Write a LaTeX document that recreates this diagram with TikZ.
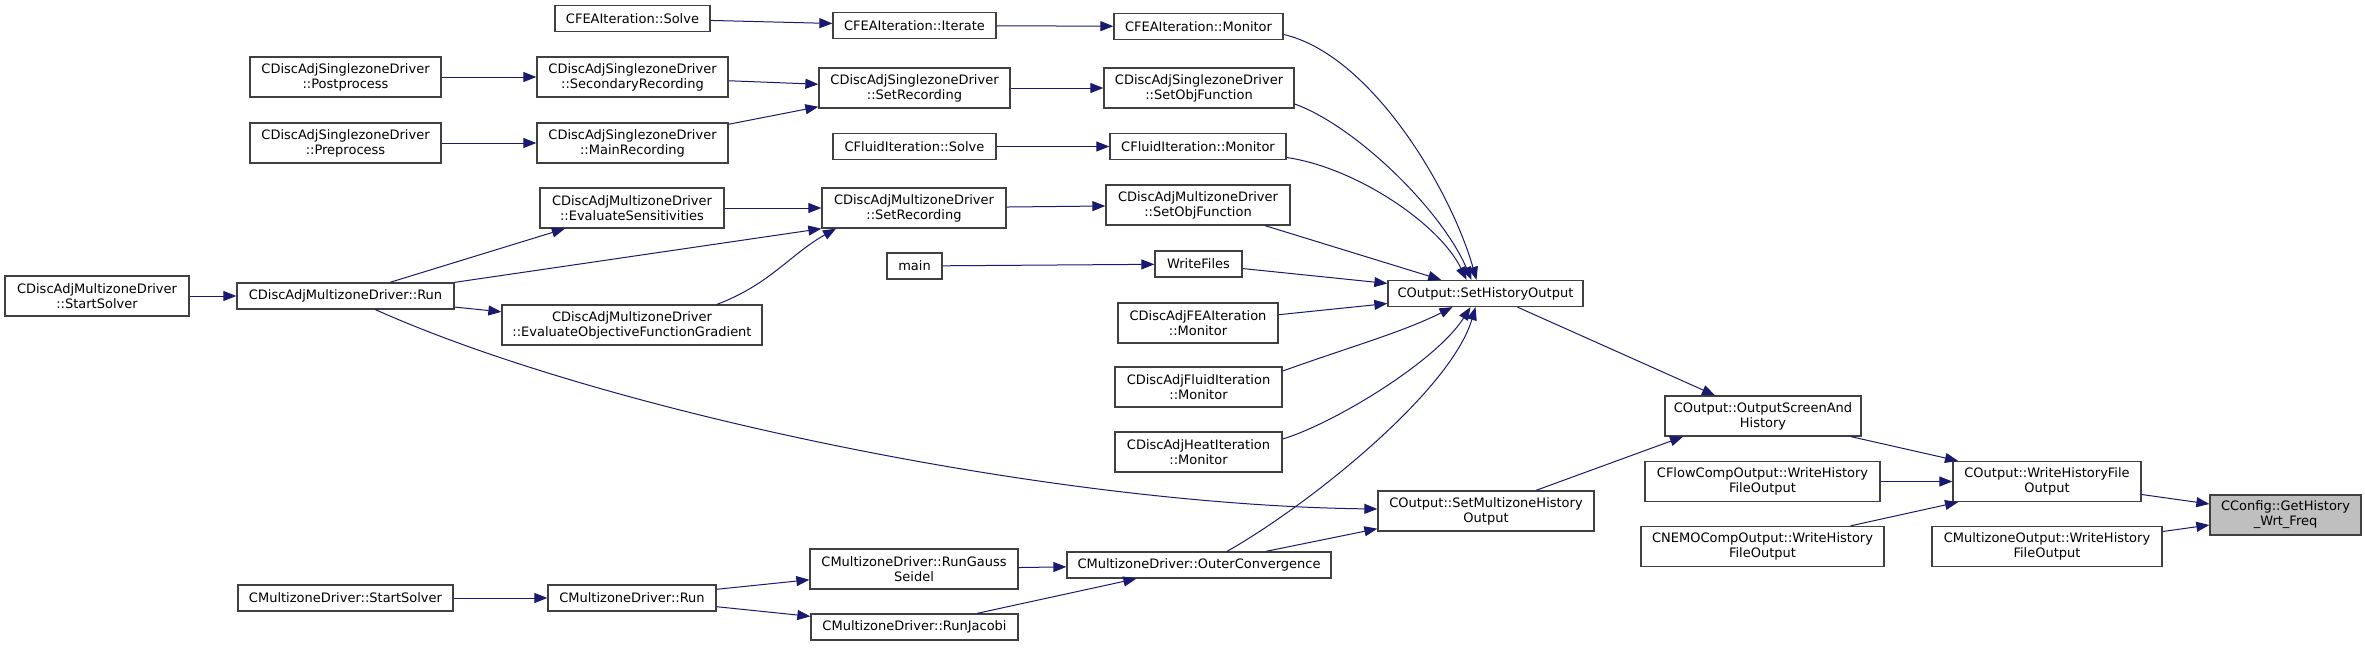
\documentclass[tikz,border=0pt]{standalone}
\usepackage{fontspec}
\setmainfont{DejaVu Sans}
\usepackage{xcolor}
\usetikzlibrary{arrows.meta}
\definecolor{edgeblue}{HTML}{191970}
\definecolor{boxline}{HTML}{404040}

\begin{document}
\begin{tikzpicture}[x=1pt, y=-1pt, font=\fontsize{13}{15}\selectfont,
  >={Triangle[length=13pt, width=10pt]},
  fn/.style={draw=boxline, line width=1.3pt, align=center, inner sep=2pt, fill=white},
  cur/.style={fn, fill=black!25},
  cl/.style={->, draw=edgeblue, line width=1pt}]
\useasboundingbox (0,0) rectangle (2365,648);
\foreach \n/\x/\y/\w/\h/\t in {
  feasolve/632.5/18.5/155/26/{CFEAIteration::Solve},
  szpost/345.5/77/191/40/{CDiscAdjSinglezoneDriver\\::Postprocess},
  szsec/632.5/77/191/40/{CDiscAdjSinglezoneDriver\\::SecondaryRecording},
  szpre/345.5/143/191/40/{CDiscAdjSinglezoneDriver\\::Preprocess},
  szmain/632.5/143/191/40/{CDiscAdjSinglezoneDriver\\::MainRecording},
  mzsens/632/208/184/40/{CDiscAdjMultizoneDriver\\::EvaluateSensitivities},
  mzstart/97/296/184/40/{CDiscAdjMultizoneDriver\\::StartSolver},
  mzrun/345.5/296/217/26/{CDiscAdjMultizoneDriver::Run},
  mzgrad/632/325/260/40/{CDiscAdjMultizoneDriver\\::EvaluateObjectiveFunctionGradient},
  feaiter/914.5/25.5/163/26/{CFEAIteration::Iterate},
  feamon/1198.5/26.5/169/26/{CFEAIteration::Monitor},
  szsetrec/914.5/88/191/40/{CDiscAdjSinglezoneDriver\\::SetRecording},
  szsetobj/1199/88/190/40/{CDiscAdjSinglezoneDriver\\::SetObjFunction},
  flsolve/914.5/146.5/163/26/{CFluidIteration::Solve},
  flmon/1198/146.5/176/26/{CFluidIteration::Monitor},
  mzsetrec/914/208/184/40/{CDiscAdjMultizoneDriver\\::SetRecording},
  mzsetobj/1198/205/184/40/{CDiscAdjMultizoneDriver\\::SetObjFunction},
  main/914.5/266/55/26/{main},
  wfiles/1198.5/264/87/26/{WriteFiles},
  sho/1485.5/293.5/195/26/{COutput::SetHistoryOutput},
  dafea/1198/323/160/40/{CDiscAdjFEAIteration\\::Monitor},
  dafluid/1198.5/387/167/40/{CDiscAdjFluidIteration\\::Monitor},
  daheat/1198.5/452/167/40/{CDiscAdjHeatIteration\\::Monitor},
  setmz/1486/511/216/40/{COutput::SetMultizoneHistory\\Output},
  rungs/914/569/208/40/{CMultizoneDriver::RunGauss\\Seidel},
  outer/1199/565/264/26/{CMultizoneDriver::OuterConvergence},
  runjac/914.5/627/207/26/{CMultizoneDriver::RunJacobi},
  mstart/345.5/598/215/26/{CMultizoneDriver::StartSolver},
  mrun/632/598/168/26/{CMultizoneDriver::Run},
  outscr/1763/416/196/40/{COutput::OutputScreenAnd\\History},
  flow/1762.5/481.5/235/40/{CFlowCompOutput::WriteHistory\\FileOutput},
  whf/2047/481.5/188/40/{COutput::WriteHistoryFile\\Output},
  nemo/1762.5/546.5/243/40/{CNEMOCompOutput::WriteHistory\\FileOutput},
  mzout/2047/546.5/230/40/{CMultizoneOutput::WriteHistory\\FileOutput}} {
  \node[fn, minimum width=\w, minimum height=\h] (\n) at (\x,\y) {\t};
}
\node[cur, minimum width=151, minimum height=40] (gethist) at (2285.5,515) {CConfig::GetHistory\\\_Wrt\_Freq};
\draw[cl] (feasolve) -- (feaiter);
\draw[cl] (feaiter) -- (feamon);
\draw[cl] (szpost) -- (szsec);
\draw[cl] (szsec) -- (szsetrec);
\draw[cl] (szpre) -- (szmain);
\draw[cl] (szmain) -- (szsetrec);
\draw[cl] (szsetrec) -- (szsetobj);
\draw[cl] (flsolve) -- (flmon);
\draw[cl] (mzsens) -- (mzsetrec);
\draw[cl] (mzstart) -- (mzrun);
\draw[cl] (mzrun) -- (mzsens);
\draw[cl] (mzrun.north east) -- (mzsetrec.south west);
\draw[cl] (mzrun) -- (mzgrad);
\draw[cl] ([xshift=85]mzgrad.north) .. controls +(53,-20) and +(-45,25) .. ([xshift=-78]mzsetrec.south);
\draw[cl] (mzsetrec) -- (mzsetobj);
\draw[cl] (main) -- (wfiles);
\draw[cl] ([yshift=-8]feamon.east) .. controls +(87,20) and +(-26,-91) .. ([xshift=-9]sho.north);
\draw[cl] ([yshift=-16]szsetobj.east) .. controls +(61,22) and +(-30,-70) .. ([xshift=-14]sho.north);
\draw[cl] ([yshift=-11]flmon.east) .. controls +(69,10) and +(-27,-56) .. ([xshift=-19]sho.north);
\draw[cl] (mzsetobj) -- (sho);
\draw[cl] (wfiles) -- (sho);
\draw[cl] (dafea) -- (sho);
\draw[cl] ([yshift=16]dafluid.east) .. controls +(70,-25) and +(-50,25) .. ([xshift=-33]sho.south);
\draw[cl] ([yshift=13]daheat.east) .. controls +(50,-15) and +(-35,55) .. ([xshift=-15]sho.south);
\draw[cl] ([xshift=28]outer.north) .. controls +(83,-47) and +(-25,84) .. ([xshift=-10]sho.south);
\draw[cl] ([xshift=30]mzrun.south) .. controls +(225,101) and +(-328,-4) .. ([yshift=2]setmz.west);
\draw[cl] ([xshift=67]outer.north) -- ([yshift=3]setmz.south west);
\draw[cl] ([xshift=50]setmz.north) -- ([xshift=-80]outscr.south);
\draw[cl] ([xshift=32]sho.south) -- ([xshift=-48]outscr.north);
\draw[cl] ([xshift=88]outscr.south) -- ([xshift=-89]whf.north);
\draw[cl] (flow) -- (whf);
\draw[cl] ([xshift=88]nemo.north) -- ([xshift=-89]whf.south);
\draw[cl] ([yshift=-13]whf.east) -- ([yshift=11]gethist.west);
\draw[cl] ([yshift=15]mzout.east) -- ([yshift=-10]gethist.west);
\draw[cl] (mstart) -- (mrun);
\draw[cl] (mrun) -- (rungs);
\draw[cl] (mrun) -- (runjac);
\draw[cl] (rungs) -- (outer);
\draw[cl] (runjac) -- (outer);
\end{tikzpicture}
\end{document}
